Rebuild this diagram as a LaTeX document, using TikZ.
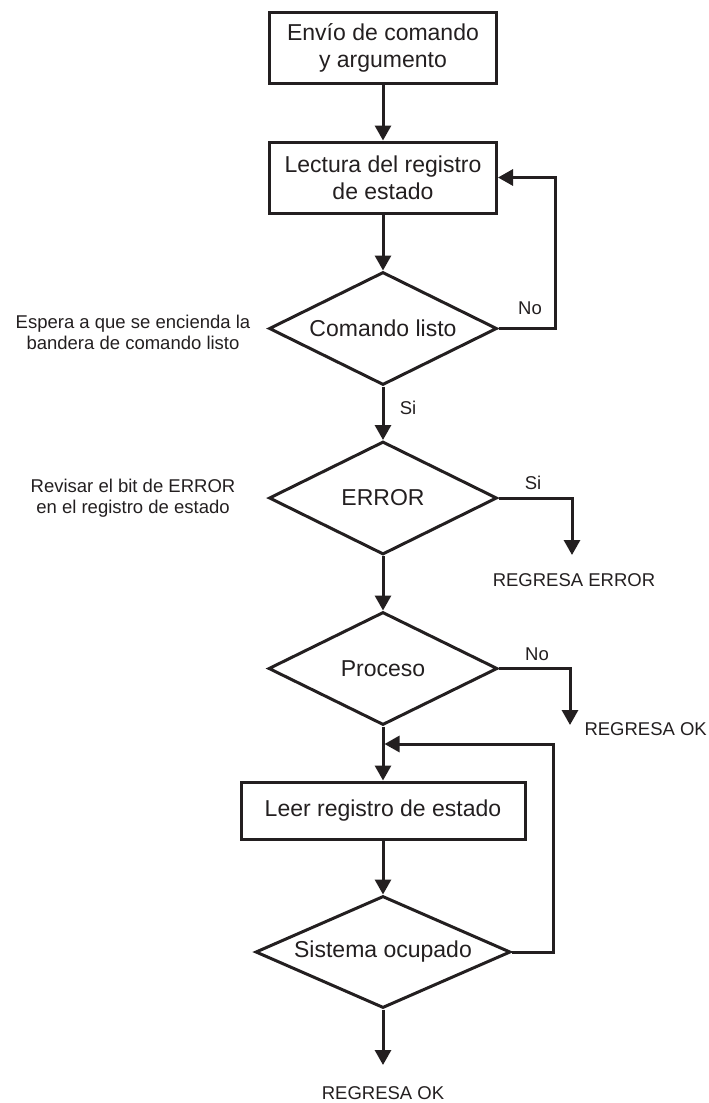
\documentclass[tikz,border=0pt]{standalone}
\usepackage{fontspec}
\setmainfont{Liberation Sans}
\usetikzlibrary{shapes.geometric,arrows.meta}
\definecolor{ink}{RGB}{35,31,32}
\begin{document}
\begin{tikzpicture}[x=1pt,y=-1pt,
  line width=3pt, color=ink,
  big/.style={font=\fontsize{23}{27}\selectfont},
  small/.style={font=\fontsize{18.5}{21}\selectfont},
  procbox/.style={draw, rectangle, inner sep=0pt, align=center, big},
  decision/.style={draw, diamond, inner sep=0pt, big},
  arr/.style={-{Triangle[width=16pt,length=15pt]}},
  lbl/.style={small, inner sep=0pt, align=center}]
\useasboundingbox (0,0) rectangle (709,1103);

% process boxes
\node[procbox, minimum width=227pt, minimum height=71pt] (b1) at (383,47.5) {Envío de comando\\y argumento};
\node[procbox, minimum width=227pt, minimum height=71pt] (b2) at (383,177.5) {Lectura del registro\\de estado};
\node[procbox, minimum width=284pt, minimum height=57pt] (b3) at (383,810.5) {Leer registro de estado};

% decisions
\node[decision, minimum width=228pt, minimum height=113pt] (d1) at (383,328.5) {\makebox[0pt]{Comando listo}};
\node[decision, minimum width=228pt, minimum height=113pt] (d2) at (383,498) {\makebox[0pt]{ERROR}};
\node[decision, minimum width=229pt, minimum height=113pt] (d3) at (383,668.5) {\makebox[0pt]{Proceso}};
\node[decision, minimum width=255pt, minimum height=112pt] (d4) at (383,952) {\makebox[0pt]{Sistema ocupado}};

% bends and free ends
\coordinate (c1) at (555,328.5);
\coordinate (c2) at (555,177.5);
\coordinate (e1) at (572,498);
\coordinate (t1) at (572,555);
\coordinate (e2) at (570,668.5);
\coordinate (t2) at (570,725);
\coordinate (j) at (383,744);
\coordinate (c3) at (553,952);
\coordinate (c4) at (553,744);
\coordinate (t3) at (383,1065);

% main flow
\draw[arr] (b1.south) -- (b2.north);
\draw[arr] (b2.south) -- (d1.north);
\draw[arr] (d1.south) -- (d2.north);
\draw[arr] (d2.south) -- (d3.north);
\draw[arr] (d3.south) -- (b3.north);
\draw[arr] (b3.south) -- (d4.north);
\draw[arr] (d4.south) -- (t3);

% loops and exits
\draw[arr] (d1.east) -- (c1) -- (c2) -- (b2.east);
\draw[arr] (d2.east) -- (e1) -- (t1);
\draw[arr] (d3.east) -- (e2) -- (t2);
\draw[arr] (d4.east) -- (c3) -- (c4) -- ([xshift=1.5pt]j);

% labels
\node[lbl] (no1) at (530,308) {No};
\node[lbl] (si1) at (408,408) {Si};
\node[lbl] (si2) at (533,483) {Si};
\node[lbl] (no2) at (537,654) {No};
\node[lbl] (note1) at (133,332) {Espera a que se encienda la\\bandera de comando listo};
\node[lbl] (note2) at (133,498) {Revisar el bit de ERROR\\en el registro de estado};
\node[lbl] (r1) at (574,580) {REGRESA ERROR};
\node[lbl, anchor=west] (r2) at (583,729) {REGRESA OK};
\node[lbl] (r3) at (383,1093) {REGRESA OK};
\end{tikzpicture}
\end{document}
